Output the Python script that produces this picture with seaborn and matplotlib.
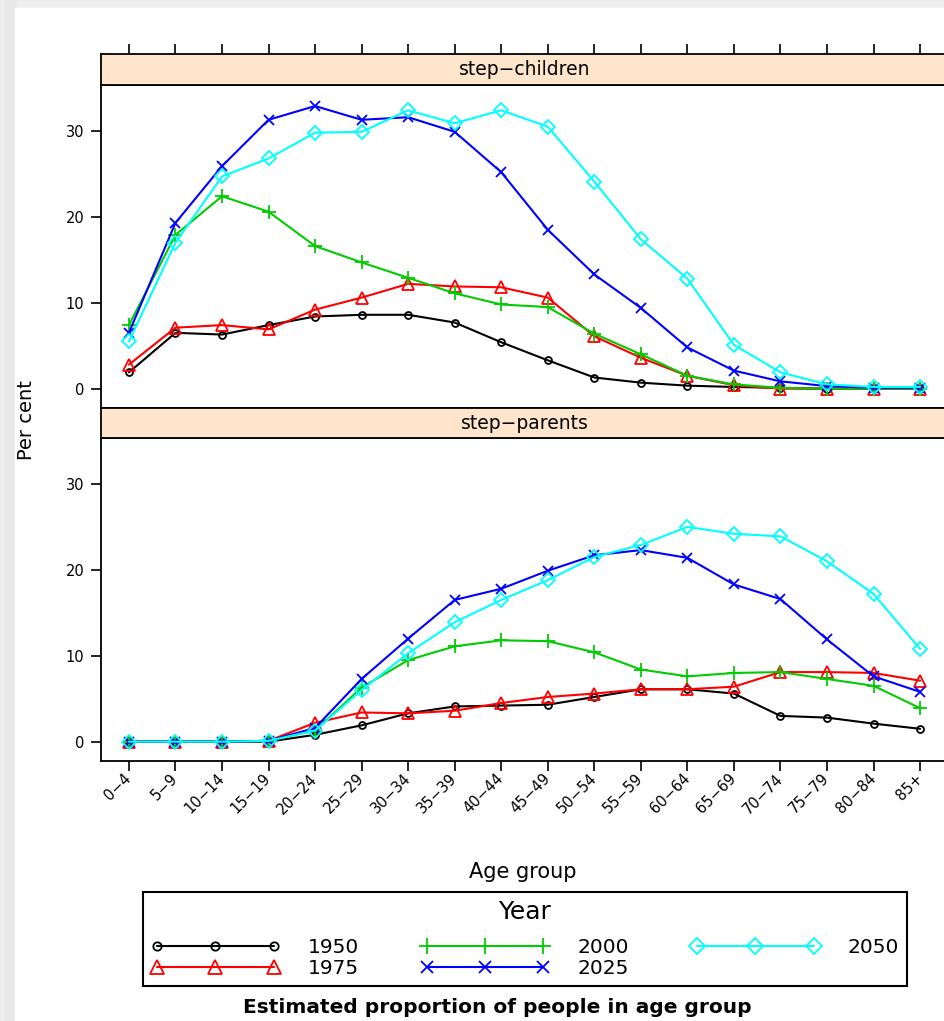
import numpy as np
import pandas as pd
import matplotlib
matplotlib.use("Agg")
import matplotlib.pyplot as plt
from matplotlib.lines import Line2D
from matplotlib.patches import Rectangle
import seaborn as sns

# age groups on the x axis
ages = ["0-4", "5-9", "10-14", "15-19", "20-24", "25-29", "30-34", "35-39", "40-44",
        "45-49", "50-54", "55-59", "60-64", "65-69", "70-74", "75-79", "80-84", "85+"]
years = ["1950", "1975", "2000", "2025", "2050"]
panels = ["step-children", "step-parents"]

# per cent, step-children panel
child_1950 = [1.9, 6.5, 6.3, 7.4, 8.4, 8.6, 8.6, 7.7, 5.4, 3.3, 1.3, 0.7, 0.35, 0.2, 0.1, 0.0, 0.0, 0.0]
child_1975 = [2.8, 7.1, 7.4, 6.9, 9.2, 10.6, 12.2, 11.9, 11.8, 10.6, 6.1, 3.6, 1.5, 0.4, 0.0, 0.0, 0.0, 0.0]
child_2000 = [7.4, 17.9, 22.4, 20.6, 16.6, 14.7, 12.9, 11.1, 9.8, 9.5, 6.4, 4.0, 1.5, 0.5, 0.1, 0.0, 0.0, 0.0]
child_2025 = [6.5, 19.3, 25.9, 31.3, 32.9, 31.3, 31.6, 29.9, 25.2, 18.5, 13.3, 9.4, 4.8, 2.1, 0.85, 0.3, 0.1, 0.1]
child_2050 = [5.5, 17.0, 24.7, 26.8, 29.8, 29.9, 32.4, 30.9, 32.4, 30.5, 24.1, 17.4, 12.8, 5.1, 1.9, 0.5, 0.2, 0.2]

# per cent, step-parents panel
par_1950 = [0.0, 0.0, 0.0, 0.0, 0.8, 1.9, 3.3, 4.1, 4.2, 4.3, 5.2, 6.1, 6.1, 5.6, 3.0, 2.8, 2.1, 1.5]
par_1975 = [0.0, 0.0, 0.0, 0.1, 2.2, 3.4, 3.3, 3.6, 4.5, 5.2, 5.6, 6.1, 6.1, 6.4, 8.1, 8.1, 8.0, 7.1]
par_2000 = [0.0, 0.0, 0.0, 0.1, 1.3, 6.3, 9.5, 11.1, 11.8, 11.7, 10.4, 8.4, 7.6, 8.0, 8.1, 7.3, 6.5, 3.9]
par_2025 = [0.0, 0.0, 0.0, 0.1, 1.6, 7.3, 12.0, 16.5, 17.8, 19.9, 21.7, 22.3, 21.4, 18.3, 16.6, 11.9, 7.6, 5.8]
par_2050 = [0.0, 0.0, 0.0, 0.1, 1.3, 6.0, 10.3, 13.9, 16.5, 18.8, 21.5, 22.9, 25.0, 24.2, 23.9, 21.0, 17.2, 10.8]

series = {
    "step-children": [child_1950, child_1975, child_2000, child_2025, child_2050],
    "step-parents": [par_1950, par_1975, par_2000, par_2025, par_2050],
}

rows = []
for panel in panels:
    for yr, vals in zip(years, series[panel]):
        for i, v in enumerate(vals):
            rows.append({"panel": panel, "year": yr, "pos": i + 1, "value": v})
df = pd.DataFrame(rows)

colors = {"1950": "#000000", "1975": "#ff0000", "2000": "#00cd00", "2025": "#0000ff", "2050": "#00ffff"}
markers = {"1950": "o", "1975": "^", "2000": "+", "2025": "x", "2050": "D"}
msizes = {"o": 5, "^": 9, "+": 10.5, "x": 7.5, "D": 7.5}

sns.set_theme(style="white")
plt.rcParams["font.family"] = ["DejaVu Sans"]
plt.rcParams["text.color"] = "black"
plt.rcParams["axes.labelcolor"] = "black"

W, H = 944, 1021
fig = plt.figure(figsize=(W / 100, H / 100), dpi=100)

# grey page border like the screenshot
fig.patches.append(Rectangle((0, 0), 1, 1, transform=fig.transFigure, color="#eeeeee", zorder=-10))
fig.patches.append(Rectangle((5 / W, 0), 10 / W, 1, transform=fig.transFigure, color="#e8e8e8", zorder=-9))
fig.patches.append(Rectangle((15 / W, 0), 1, 1 - 8 / H, transform=fig.transFigure, color="white", zorder=-8))

left = 101 / W
width = (948 - 101) / W
ph = 323 / H
xlim = (0.4, len(ages) + 0.6)
ylim = (-2.25, 35.35)
positions = np.arange(1, len(ages) + 1)


def fig_y(py):
    return 1 - py / H


axes = [fig.add_axes([left, fig_y(408), width, ph]),
        fig.add_axes([left, fig_y(761), width, ph])]
strips = [fig.add_axes([left, fig_y(85), width, 31 / H]),
          fig.add_axes([left, fig_y(438), width, 30 / H])]

for ax, strip, panel in zip(axes, strips, panels):
    sub = df[df["panel"] == panel]
    for yr in years:
        m = markers[yr]
        sns.lineplot(data=sub[sub["year"] == yr], x="pos", y="value",
                     color=colors[yr], marker=m, markersize=msizes[m],
                     markerfacecolor="none", markeredgecolor=colors[yr],
                     markeredgewidth=1.3, errorbar=None, linewidth=1.5, ax=ax)
    ax.set_xlim(*xlim)
    ax.set_ylim(*ylim)
    ax.set_yticks([0, 10, 20, 30])
    ax.set_xticks(positions)
    ax.set_xlabel("")
    ax.set_ylabel("")
    ax.tick_params(axis="y", left=True, length=7, width=1.2, pad=5, labelsize=10.5,
                   colors="black")
    for sp in ax.spines.values():
        sp.set_color("black")
        sp.set_linewidth(1.3)

    strip.set_facecolor("#ffe5cc")
    strip.set_xlim(*xlim)
    strip.set_yticks([])
    strip.text(0.5, 0.5, panel.replace("-", "\u2212"), transform=strip.transAxes,
               ha="center", va="center", fontsize=13.5)
    for sp in strip.spines.values():
        sp.set_color("black")
        sp.set_linewidth(1.3)

# top ticks above the first strip
strips[0].xaxis.tick_top()
strips[0].set_xticks(positions)
strips[0].tick_params(axis="x", top=True, length=7, width=1.2, labeltop=False, colors="black")
strips[1].set_xticks([])

axes[0].tick_params(axis="x", bottom=False, labelbottom=False)
axes[1].tick_params(axis="x", bottom=True, length=7, width=1.2, pad=4, labelsize=10.5,
                    colors="black")
axes[1].set_xticklabels([a.replace("-", "\u2212") for a in ages], rotation=45,
                        ha="right", va="center", rotation_mode="anchor")

fig.text(26 / W, fig_y(420), "Per cent", rotation=90, ha="center", va="center", fontsize=14)
fig.text(523 / W, fig_y(872), "Age group", ha="center", va="center", fontsize=15)
fig.text(497 / W, fig_y(1007), "Estimated proportion of people in age group",
         ha="center", va="center", fontsize=14.5, fontweight="bold")

handles = [Line2D([], [], color=colors[y], marker=markers[y], markersize=msizes[markers[y]] + 1,
                  markerfacecolor="none", markeredgecolor=colors[y], markeredgewidth=1.3,
                  linewidth=1.5) for y in years]
leg = fig.legend(handles, years, title="Year", ncol=3, numpoints=3,
                 loc="upper center", bbox_to_anchor=(525 / W, fig_y(892)),
                 borderaxespad=0,
                 fontsize=14.5, title_fontsize=18, handlelength=6.4, handletextpad=1.4,
                 columnspacing=3.05, labelspacing=0.08, borderpad=0.4,
                 fancybox=False, framealpha=1, edgecolor="black")
leg._legend_box.sep = 10
leg.get_frame().set_linewidth(1.5)

fig.savefig("out.png", dpi=100)
